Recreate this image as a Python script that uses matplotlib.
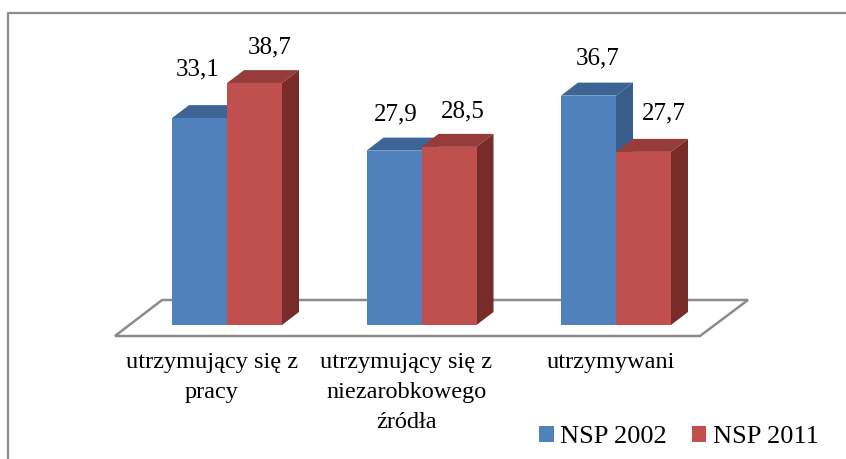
import numpy as np
import matplotlib.pyplot as plt
from matplotlib.patches import Polygon, Patch
from matplotlib.lines import Line2D

# data
categories = ["utrzymujący się z\npracy", "utrzymujący się z\nniezarobkowego\nźródła", "utrzymywani"]
series_names = ["NSP 2002", "NSP 2011"]
nsp2002 = [33.1, 27.9, 36.7]
nsp2011 = [38.7, 28.5, 27.7]

# label nudges in pixels (dx, baseline above front top)
label_dx = [[-1.5, 1.5, 9.5], [15.5, 13.5, 20.5]]
label_dy = [[43, 30, 31], [30, 29, 32]]
cat_dx = [-15, -15, -5]

plt.rcParams['font.family'] = ['Liberation Serif', 'DejaVu Serif']

W, H = 846, 459
fig = plt.figure(figsize=(W / 100, H / 100), dpi=100)
ax = fig.add_axes([0, 0, 1, 1])

# pixel scale of the plot
px_x = 194.5   # pixels per category
px_y = 6.25    # pixels per value unit
x0_px, y0_px = 227, 325
ax.set_xlim(-x0_px / px_x, (W - x0_px) / px_x)
ax.set_ylim(-(H - y0_px) / px_y, y0_px / px_y)
ax.axis('off')

bw = 55 / px_x
ddx = 17 / px_x
ddy = 13 / px_y

colors = {
    0: ('#4F81BD', '#3C6494', '#385D8A'),
    1: ('#C0504D', '#963C3A', '#772C2A'),
}

# floor
floor = Polygon([(-112 / px_x, -11 / px_y), (-65 / px_x, 25 / px_y),
                 (521 / px_x, 25 / px_y), (473 / px_x, -11 / px_y)],
                closed=True, facecolor='white', edgecolor='#8c8c8c', lw=1.8, zorder=1)
ax.add_patch(floor)

idx = np.arange(len(categories))
for s, vals in enumerate([nsp2002, nsp2011]):
    front, top, side = colors[s]
    lefts = idx - bw if s == 0 else idx
    ax.bar(lefts, vals, bw, align='edge', color=front, zorder=2 + s * 2 + 1, linewidth=0)
    for i, (xl, v) in enumerate(zip(lefts, vals)):
        xr = xl + bw
        ax.add_patch(Polygon([(xl, v), (xl + ddx, v + ddy), (xr + ddx, v + ddy), (xr, v)],
                             closed=True, facecolor=top, edgecolor='none', zorder=2 + s * 2))
        ax.add_patch(Polygon([(xr, 0), (xr + ddx, ddy), (xr + ddx, v + ddy), (xr, v)],
                             closed=True, facecolor=side, edgecolor='none', zorder=2 + s * 2))
        ax.text(xl + bw / 2 + label_dx[s][i] / px_x, v + label_dy[s][i] / px_y,
                f"{v:.1f}".replace('.', ','), ha='center', va='baseline',
                fontsize=18, color='black', zorder=10)

# category labels
for i, c in enumerate(categories):
    ax.text(i + cat_dx[i] / px_x, -27 / px_y, c, ha='center', va='top', fontsize=17.5,
            linespacing=1.55, color='black')

# legend
handles = [Patch(facecolor=colors[s][0], edgecolor='none') for s in range(2)]
fig.legend(handles, series_names, loc='center left',
           bbox_to_anchor=(539 / W, 1 - 437 / H), ncol=2, frameon=False,
           fontsize=19, handlelength=0.55, handleheight=0.55,
           handletextpad=0.25, columnspacing=0.95, borderpad=0, borderaxespad=0)

# chart border (top and left only visible)
fig.add_artist(Line2D([7.5 / W, 7.5 / W, 1], [0, 1 - 12.5 / H, 1 - 12.5 / H],
                      transform=fig.transFigure, color='#8c8c8c', lw=1.6))

fig.savefig('out.png', dpi=100)
